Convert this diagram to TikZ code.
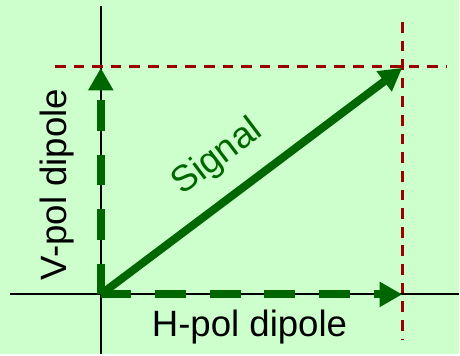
\documentclass[tikz,border=0pt]{standalone}
\usepackage{fontspec}
\setmainfont{Liberation Sans}
\usepackage{xcolor}
\usepackage{tikz}
\usetikzlibrary{arrows.meta, positioning, calc}

\definecolor{bggreen}{HTML}{CCFFCC}
\definecolor{vecgreen}{HTML}{006600}
\definecolor{guidered}{HTML}{990000}

\begin{document}
\begin{tikzpicture}[
    x=0.75pt, y=-0.75pt,
    axis/.style={draw=black, line width=1.4pt},
    guide/.style={draw=guidered, line width=2.2pt, dash pattern=on 8pt off 6pt},
    dipole/.style={draw=vecgreen, line width=6pt, dash pattern=on 23pt off 18pt, -{Triangle[length=17pt, width=18pt]}},
    signal/.style={draw=vecgreen, line width=6pt, -{Triangle[length=17pt, width=18pt]}},
    lbl/.style={inner sep=0pt, font=\fontsize{27.5}{32}\selectfont}
]

% Background
\fill[bggreen] (0,0) rectangle (460,355);

% Points
\coordinate (O) at (101,295);
\coordinate (vtip) at (101,68);
\coordinate (htip) at (403,295);
\coordinate (stip) at (403,68);

% Axes
\coordinate (ytop) at (101,6);
\coordinate (ybot) at (101,355);
\coordinate (xleft) at (10,295);
\coordinate (xright) at (460,295);
\draw[axis] (ybot) -- (ytop);
\draw[axis] (xleft) -- (xright);

% Guides
\coordinate (gleft) at (55,67);
\coordinate (gright) at (448,67);
\coordinate (gtop) at (403,22);
\coordinate (gbot) at (403,340);
\draw[guide] (gleft) -- (gright);
\draw[guide] (gtop) -- (gbot);

% Vectors
\draw[dipole] (O) -- (vtip);
\draw[dipole] (O) -- (htip);
\draw[signal] (O) -- (stip);

% Labels
\node[lbl, anchor=base] (hlabel) at (250,337) {H-pol dipole};
\node[lbl, anchor=base, rotate=90] (vlabel) at (67,185) {V-pol dipole};
\node[lbl, text=vecgreen, rotate=37] (slabel) at (218,158) {Signal};

\end{tikzpicture}
\end{document}
